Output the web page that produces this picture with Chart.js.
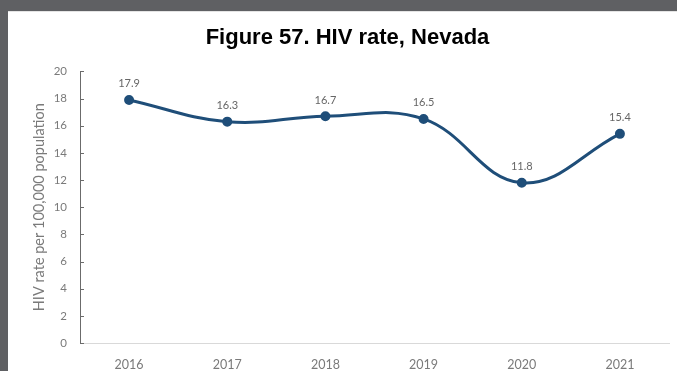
<!DOCTYPE html>
<html>
<head>
<meta charset="utf-8">
<script src="https://cdn.jsdelivr.net/npm/chart.js@4"></script>
<style>
  html, body { margin: 0; padding: 0; }
  body { width: 677px; height: 371px; background: #5f6063; position: relative; overflow: hidden; }
  #panel { position: absolute; left: 8px; top: 11px; width: 669px; height: 360px; background: #fff; border-top: 1px solid #e4e4e4; box-sizing: border-box; }
  #panel canvas { display: block; }
</style>
</head>
<body>
<div id="panel"><canvas id="hivChart" width="669" height="359"></canvas></div>
<script>
// Data
const years = ['2016', '2017', '2018', '2019', '2020', '2021'];
const hivRate = [17.9, 16.3, 16.7, 16.5, 11.8, 15.4];
const yTicks = [0, 2, 4, 6, 8, 10, 12, 14, 16, 18, 20];

const lineColor = '#1f4e79';
const textGray = '#7a7a7a';

// value labels above each point (drawn unclipped)
const valueLabels = {
  id: 'valueLabels',
  afterDatasetsDraw(chart){
    const ctx = chart.ctx;
    const meta = chart.getDatasetMeta(0);
    ctx.save();
    ctx.font = '11px Lato';
    ctx.fillStyle = '#666666';
    ctx.textAlign = 'center';
    ctx.textBaseline = 'middle';
    meta.data.forEach((pt, i) => {
      ctx.fillText(hivRate[i].toFixed(1), pt.x, pt.y - 16);
    });
    ctx.restore();
  }
};

// small tick marks on the inside of the y axis
const innerTicks = {
  id: 'innerTicks',
  afterDraw(chart){
    const y = chart.scales.y;
    const ctx = chart.ctx;
    const x0 = chart.chartArea.left;
    ctx.save();
    ctx.strokeStyle = '#6b6b6b';
    ctx.lineWidth = 1;
    yTicks.forEach(v => {
      const py = Math.round(y.getPixelForValue(v)) + 0.5;
      ctx.beginPath();
      ctx.moveTo(x0, py);
      ctx.lineTo(x0 + 4, py);
      ctx.stroke();
    });
    ctx.restore();
  }
};

new Chart(document.getElementById('hivChart').getContext('2d'), {
  type: 'line',
  data: {
    labels: years,
    datasets: [{
      data: hivRate,
      borderColor: lineColor,
      backgroundColor: lineColor,
      borderWidth: 3,
      tension: 0.4,
      pointRadius: 3.5,
      pointHoverRadius: 3.5,
      fill: false
    }]
  },
  options: {
    responsive: false,
    animation: false,
    // left padding keeps the title centred like the original
    layout: { padding: { left: 18, right: 8, top: 0, bottom: 0 } },
    plugins: {
      legend: { display: false },
      tooltip: { enabled: false },
      title: {
        display: true,
        text: 'Figure 57. HIV rate, Nevada',
        color: '#000',
        font: { family: 'Liberation Sans', size: 22, weight: 'bold', lineHeight: 1.2 },
        padding: { top: 13, bottom: 20 }
      }
    },
    scales: {
      x: {
        offset: true,
        grid: { display: false, drawTicks: false },
        border: { display: true, color: '#d9d9d9', width: 1 },
        ticks: { color: textGray, font: { family: 'Lato', size: 12.5 }, padding: 14, maxRotation: 0 },
        afterFit(scale){ scale.height = 28; }
      },
      y: {
        min: 0,
        max: 20,
        grid: { display: false, drawTicks: false },
        border: { display: true, color: '#6b6b6b', width: 1 },
        ticks: { stepSize: 2, color: textGray, font: { family: 'Lato', size: 11.5 }, padding: 13 },
        title: {
          display: true,
          text: 'HIV rate per 100,000 population',
          color: textGray,
          font: { family: 'Lato', size: 14.5 },
          padding: { top: 5, bottom: 0 }
        },
        afterFit(scale){ scale.width = 54; }
      }
    }
  },
  plugins: [valueLabels, innerTicks]
});
</script>
</body>
</html>
